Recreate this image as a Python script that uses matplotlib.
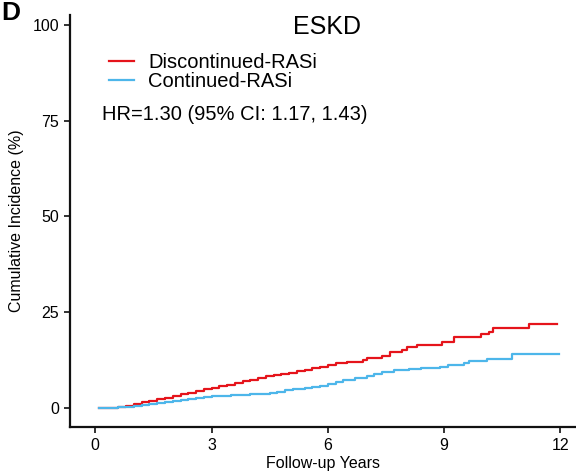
import matplotlib
matplotlib.use("Agg")
import matplotlib.pyplot as plt

plt.rcParams['font.family'] = ['Liberation Sans', 'DejaVu Sans']

# Data
red_t = [0.1, 0.6, 0.8, 1.0, 1.2, 1.4, 1.6, 1.8, 2.0, 2.2, 2.4, 2.6, 2.8, 3.0, 3.2, 3.4, 3.6, 3.8,
         4.0, 4.2, 4.4, 4.6, 4.8, 5.0, 5.2, 5.4, 5.6, 5.8, 6.0, 6.2, 6.5, 6.9, 7.0, 7.4, 7.6, 7.9,
         8.05, 8.3, 8.95, 9.25, 9.95, 10.15, 10.25, 11.2, 11.9]
red_y = [0.0, 0.3, 0.6, 1.0, 1.4, 1.9, 2.3, 2.7, 3.1, 3.5, 3.9, 4.3, 4.8, 5.2, 5.6, 6.0, 6.4, 6.9,
         7.4, 7.8, 8.2, 8.5, 8.8, 9.1, 9.5, 9.9, 10.3, 10.8, 11.3, 11.7, 12.0, 12.4, 13.1, 13.6, 14.5,
         15.2, 15.9, 16.4, 17.3, 18.6, 19.4, 19.7, 20.8, 21.8, 21.8]
blue_t = [0.1, 0.6, 0.8, 1.0, 1.2, 1.4, 1.6, 1.8, 2.0, 2.2, 2.4, 2.6, 2.8, 3.0, 3.5, 4.0, 4.5, 4.7,
          4.9, 5.1, 5.4, 5.6, 5.8, 6.0, 6.2, 6.4, 6.7, 7.0, 7.2, 7.4, 7.7, 8.1, 8.4, 8.9, 9.1, 9.5,
          9.65, 10.1, 10.75, 11.96]
blue_y = [0.0, 0.1, 0.3, 0.5, 0.8, 1.1, 1.3, 1.6, 1.8, 2.0, 2.2, 2.6, 2.9, 3.2, 3.4, 3.6, 3.8, 4.2,
          4.6, 5.0, 5.1, 5.4, 5.8, 6.3, 6.8, 7.3, 7.7, 8.2, 8.8, 9.3, 10.0, 10.2, 10.4, 10.8, 11.2,
          11.6, 12.3, 12.7, 14.1, 14.1]
series_labels = ["Discontinued-RASi", "Continued-RASi"]
xticks = [0, 3, 6, 9, 12]
yticks = [0, 25, 50, 75, 100]

W, H = 576, 474
fig = plt.figure(figsize=(W / 100, H / 100), dpi=100)
ax = fig.add_axes([70 / W, 1 - 427 / H, (W - 70) / W, (427 - 15) / H])

ax.step(red_t, red_y, where='post', color='#E5141B', lw=1.6, label=series_labels[0])
ax.step(blue_t, blue_y, where='post', color='#4DB6EA', lw=1.6, label=series_labels[1])

ax.set_xlim(-0.65, 12.4)
ax.set_ylim(-5.0, 102.6)
ax.set_xticks(xticks)
ax.set_yticks(yticks)
ax.tick_params(labelsize=11.5, width=1.3, length=4, pad=4, color='#222222')
for s in ['top', 'right']:
    ax.spines[s].set_visible(False)
for s in ['left', 'bottom']:
    ax.spines[s].set_linewidth(1.6)
    ax.spines[s].set_color('#111111')

ax.set_xlabel("Follow-up Years", fontsize=11.5, labelpad=2)
ax.set_ylabel("Cumulative Incidence (%)", fontsize=11.5, labelpad=6)

fig.text(327 / W, 1 - 27 / H, "ESKD", fontsize=18, ha='center', va='center')
fig.text(102 / W, 1 - 114 / H, "HR=1.30 (95% CI: 1.17, 1.43)", fontsize=14.5, ha='left', va='center')
fig.text(1 / W, 1 - 1 / H, "D", fontsize=19, fontweight='bold', ha='left', va='top')

fig.legend(loc='upper left', bbox_to_anchor=(109 / W, 1 - 53 / H), bbox_transform=fig.transFigure,
           frameon=False, fontsize=14.5, handlelength=1.25, handletextpad=0.7,
           labelspacing=0.0, borderpad=0, borderaxespad=0)

fig.savefig("out.png", dpi=100)
